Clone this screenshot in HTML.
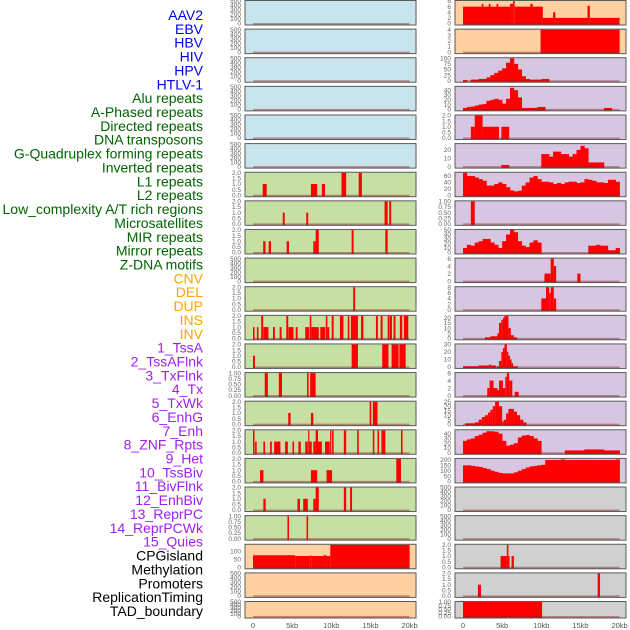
<!DOCTYPE html>
<html><head><meta charset="utf-8">
<style>
html,body{margin:0;padding:0;background:#fff;}
svg{display:block;font-family:"Liberation Sans",sans-serif;}
</style></head>
<body>
<svg id="chart" width="630" height="630" viewBox="0 0 630 630"></svg>
<script>
// ---- data ----
const trackLabels = ["AAV2","EBV","HBV","HIV","HPV","HTLV-1","Alu repeats","A-Phased repeats","Directed repeats","DNA transposons","G-Quadruplex forming repeats","Inverted repeats","L1 repeats","L2 repeats","Low_complexity A/T rich regions","Microsatellites","MIR repeats","Mirror repeats","Z-DNA motifs","CNV","DEL","DUP","INS","INV","1_TssA","2_TssAFlnk","3_TxFlnk","4_Tx","5_TxWk","6_EnhG","7_Enh","8_ZNF_Rpts","9_Het","10_TssBiv","11_BivFlnk","12_EnhBiv","13_ReprPC","14_ReprPCWk","15_Quies","CPGisland","Methylation","Promoters","ReplicationTiming","TAD_boundary"];
const labelGroups = [6,13,5,15,5];
const xTickLabels = ["0","5kb","10kb","15kb","20kb"];
const xTickValues = [0,5,10,15,20];

const leftYmax = [500,500,500,500,500,500,2,2,2,500,2,2,2,1,2,2,2,2,1,140,500,500];
const leftStep = [100,100,100,100,100,100,0.5,0.5,0.5,100,0.5,0.5,0.5,0.25,0.5,0.5,0.5,0.5,0.25,50,100,100];
const rightYmax = [8,4,100,47,2,27,70,1,50,6,8,22,30,6,25,47,210,500,500,2,2,1];
const rightStep = [2,1,25,10,0.5,10,20,0.25,10,2,2,5,10,2,5,10,50,100,100,0.5,0.5,0.25];

// bars: [startKb, endKb, value]
const L6 = [[1.24,1.75,1],[7.4,8.2,1],[8.8,9.2,1],[11.3,11.9,2],[13.5,13.9,2]];
const L7 = [[3.8,4.05,1],[6.8,7.05,1],[16.8,17.2,2],[17.4,17.65,2]];
const L8 = [[1.3,1.6,1],[2.0,2.3,1],[4.3,4.6,1],[7.7,8.0,1],[8.0,8.4,2],[12.6,12.85,2],[16.9,17.2,2]];
const L10 = [[12.8,13.05,2]];
const L11 = [[0,0.2,1],[0.5,0.7,1],[1.05,1.3,2],[1.33,1.97,1],[2.55,2.8,1],[3.4,3.65,1],[4.25,4.5,2],[4.53,5.17,1],[5.45,5.7,1],[6.67,7.18,1],[7.25,7.45,2],[7.44,8.4,1],[8.59,9.23,1],[9.3,9.5,2],[9.49,9.74,1],[10.05,10.3,2],[11.1,11.55,2],[12.1,12.3,2],[12.5,13.4,2],[13.8,14.1,2],[15.7,15.95,2],[16.3,16.55,2],[17.2,17.45,2],[17.5,17.75,2],[17.95,18.2,2],[18.76,19.06,2],[19.27,19.83,2]];
const L12 = [[0,0.25,1],[12.6,13.4,2],[16.5,17.3,2],[17.7,18.6,2],[18.7,19.5,2]];
const L13 = [[1.5,1.9,1],[3.3,3.7,1],[6.9,7.1,1],[7.3,8.0,1]];
const L14 = [[4.5,4.8,1],[7.4,7.7,1],[14.9,15.1,2],[15.3,15.9,2]];
const L15 = [[0,0.2,2],[0.27,0.47,1],[1.33,1.54,1],[2.18,2.4,1],[2.7,3.5,1],[4.1,4.45,1],[5.04,5.25,1],[5.8,6.1,1],[6.67,7.0,1],[7.05,7.2,2],[7.2,7.5,1],[7.7,8.0,1],[8.0,8.3,2],[8.3,8.8,1],[9.2,9.8,1],[9.85,10.0,2],[10.1,10.3,2],[11.6,11.9,2],[13.3,13.5,2],[15.3,15.5,2],[15.9,16.1,2],[16.4,16.9,2],[18.9,19.1,2]];
const L16 = [[0.9,1.33,1],[7.4,8.2,1],[9.4,10.1,1],[18.3,18.9,2]];
const L17 = [[1.32,1.62,1],[5.68,6.0,1],[6.41,7.0,1],[7.7,8.0,1],[8.0,8.4,2],[11.6,11.9,2],[12.4,12.65,2]];
const L18 = [[4.4,4.6,1],[6.84,7.04,1]];
const L19 = [[0,5.38,75],[5.38,7.2,70],[7.2,7.5,72],[7.5,9.0,70],[9.0,9.4,75],[9.4,9.87,70],[9.87,20,140]];

const R0 = [[0,6.0,6],[6.0,6.2,7],[6.2,6.4,7],[6.4,6.6,8],[6.6,10.2,6],[10.2,11.5,2],[11.5,11.8,4],[11.8,15.9,2],[15.9,16.2,6.3],[16.2,20,2],[2.4,2.6,7],[3.3,3.5,7],[4.3,4.5,7],[8.6,8.9,7]];
const R1 = [[9.9,20,4]];
const R2vals = [3,0,5,5,8,8,15,25,35,45,55,80,100,75,50,20,8,5,5,5,8,8,0,0,0,0,0,0,0,0,0,0,0,0,0,0,0,0,0,0];
const R3vals = [3,5,6,8,10,11,18,20,22,20,12,22,45,40,25,3,3,3,3,5,5,0,0,0,0,0,0,0,0,0,0,0,0,0,0,0,3,3,0,0];
const R4 = [[1.0,1.5,1],[1.5,2.5,2],[2.5,4.6,1],[4.9,5.9,1]];
const R5 = [[4.9,5.9,2]];
const R5vals = [0,0,0,0,0,0,0,0,0,0,0,0,0,0,0,0,0,0,0,0,15,15,12,18,18,15,15,12,15,20,25,22,5,5,5,5,0,0,0,0];
const R6vals = [70,60,60,55,50,45,30,30,35,40,35,25,15,12,14,30,40,55,60,50,42,42,40,35,38,35,40,42,42,38,40,50,48,45,40,40,38,48,48,42];
const R7 = [[1.0,1.5,1]];
const R8vals = [10,17,15,22,25,30,30,22,17,10,25,40,50,45,25,15,12,22,27,22,0,0,0,0,0,0,0,0,0,0,0,0,15,15,17,15,15,5,5,10];
const R9 = [[10.4,11.2,2],[11.2,11.6,6],[11.6,11.9,4],[14.6,15.0,2]];
const R10 = [[10.0,10.6,4],[10.6,11.0,8],[11.0,11.2,6],[11.2,11.6,8],[11.6,11.9,4]];
const R11 = [[2.8,3.5,1],[3.5,4.4,2],[4.4,4.6,5],[4.6,4.9,15],[4.9,5.1,18],[5.1,5.3,20],[5.3,5.8,22],[5.8,6.1,10],[6.1,6.5,3],[6.5,6.9,1]];
const R12 = [[0,2,1],[2,3.3,2],[3.3,3.6,3],[3.6,4.2,2],[4.3,4.6,1],[4.6,4.9,8],[4.9,5.1,20],[5.1,5.3,25],[5.3,5.6,30],[5.6,5.8,20],[5.8,6.0,15],[6.0,6.2,10],[6.2,6.4,5],[6.4,7.0,1]];
const R13 = [[3.1,3.4,2],[3.4,3.9,4],[3.9,4.4,2],[4.4,4.6,1.5],[4.6,5.1,4],[5.1,5.4,2],[5.4,5.6,5],[5.6,5.9,6],[5.9,6.3,4],[6.6,7.1,1]];
const R14 = [[0.3,1.5,1],[1.5,2.0,2],[2.0,2.4,5],[2.4,2.8,8],[2.8,3.2,10],[3.2,3.5,13],[3.5,3.8,16],[3.8,4.1,20],[4.1,4.6,25],[4.6,5.0,20],[5.0,5.2,3],[5.2,5.5,5],[5.5,5.8,12],[5.8,6.5,17],[6.5,6.9,14],[6.9,7.3,10],[7.3,7.7,5],[7.7,8.1,2]];
const R15vals = [25,28,30,35,38,42,45,45,44,40,25,15,17,20,32,36,37,35,30,25,0,0,0,0,0,0,5,5,5,5,5,7,7,7,7,7,5,5,5,5];
const R16vals = [150,150,145,140,135,125,115,100,90,80,75,75,75,85,100,115,130,140,145,150,155,200,200,200,200,205,200,200,200,200,200,200,200,200,200,200,200,200,200,205];
const R19 = [[4.8,5.6,1],[5.6,5.8,2],[5.8,5.9,1],[6.2,6.5,1]];
const R20 = [[1.9,2.3,1],[17.2,17.5,2]];
const R21 = [[0,10.1,1]];

const leftBars = {6:L6,7:L7,8:L8,10:L10,11:L11,12:L12,13:L13,14:L14,15:L15,16:L16,17:L17,18:L18,19:L19};
const rightBars = {0:R0,1:R1,4:R4,5:R5,7:R7,9:R9,10:R10,11:R11,12:R12,13:R13,14:R14,19:R19,20:R20,21:R21};
const rightProfiles = {2:R2vals,3:R3vals,5:R5vals,6:R6vals,8:R8vals,15:R15vals,16:R16vals};

// ---- drawing ----
const NS = "http://www.w3.org/2000/svg";
const svg = document.getElementById("chart");
function mk(tag, attrs, parent){
  const e = document.createElementNS(NS, tag);
  for (const k in attrs) e.setAttribute(k, attrs[k]);
  (parent||svg).appendChild(e);
  return e;
}
const BLUE="#c8e4ec", GREEN="#c6e0a4", ORANGE="#ffd0a0", PURPLE="#d6c6e2", GRAY="#d0d0d0";
function leftColor(i){ return i<6?BLUE:(i<19?GREEN:ORANGE); }
function rightColor(i){ return i<2?ORANGE:(i<17?PURPLE:GRAY); }
function rowTop(i){ return 0.5 + i*28.62; }
function rowH(i){ return i===21 ? 16.5 : 24.5; }

function drawPanel(col, i){
  const x0 = col===0 ? 245 : 455;
  const w = 171;
  const kb0 = x0 + 8, kbScale = 7.83;
  const xS = kb => kb0 + kb*kbScale;
  const top = rowTop(i), h = rowH(i), bottom = top + h;
  const ymax = col===0 ? leftYmax[i] : rightYmax[i];
  const step = col===0 ? leftStep[i] : rightStep[i];
  const yS = v => bottom - 1.5 - (v/ymax)*(h-2);
  const g = mk("g", {});
  
  
  const bg = mk("rect", {x:x0, y:top, width:w, height:h, fill: col===0?leftColor(i):rightColor(i)}, g);
  
  
  // bars
  const bars = (col===0 ? leftBars[i] : rightBars[i]) || [];
  for (const b of bars){
    const y = yS(b[2]);
    const r = mk("rect", {x:xS(b[0]), y:y, width:Math.max(1.2, xS(b[1])-xS(b[0])), height:bottom-y, fill:"#ff0000"}, g);
    
    
  }
  const prof = col===1 ? rightProfiles[i] : null;
  if (prof){
    prof.forEach((v, k) => {
      if (v<=0) return;
      const y = yS(v);
      const r = mk("rect", {x:xS(k*0.5), y:y, width:xS(0.5)-xS(0)+0.3, height:bottom-y, fill:"#ff0000"}, g);
      
      
    });
  }
  // baseline
  const bl = mk("line", {x1:xS(0), x2:xS(20), y1:bottom-1, y2:bottom-1, stroke:"rgba(140,30,30,0.45)", "stroke-width":2}, g);
  
  
  // border
  const bd = mk("rect", {x:x0, y:top, width:w, height:h, fill:"none", stroke:"#5a5a5a", "stroke-width":1}, g);
  
  
  // y ticks
  const dec = step<0.5 ? 2 : (step<1 ? 1 : 0);
  for (let v=0; v<=ymax+1e-9; v+=step){
    const t = mk("text", {x:x0-4, y:yS(v)+2.2, "text-anchor":"end", "font-size":6.5, fill:"#666"}, g);
    t.textContent = v.toFixed(dec);
    
    
  }
  // x ticks on last row
  if (i===21){
    xTickValues.forEach((v, k) => {
      const t = mk("text", {x:xS(v), y:628, "text-anchor":"middle", "font-size":7.5, fill:"#555"}, g);
      t.textContent = xTickLabels[k];
      
      
    });
  }
}
for (let i=0;i<22;i++){ drawPanel(0,i); drawPanel(1,i); }

// labels
const groupColors = ["#0000ee","#006400","#ffa500","#a020f0","#000000"];
let gi = 0, cnt = 0;
trackLabels.forEach((lab, k) => {
  while (cnt >= labelGroups[gi]) { cnt = 0; gi++; }
  cnt++;
  const t = mk("text", {x:203, y:15 + k*13.86 + 5, "text-anchor":"end", "font-size":14, fill:groupColors[gi]});
  t.textContent = lab;
  
  
});
</script>
</body></html>
